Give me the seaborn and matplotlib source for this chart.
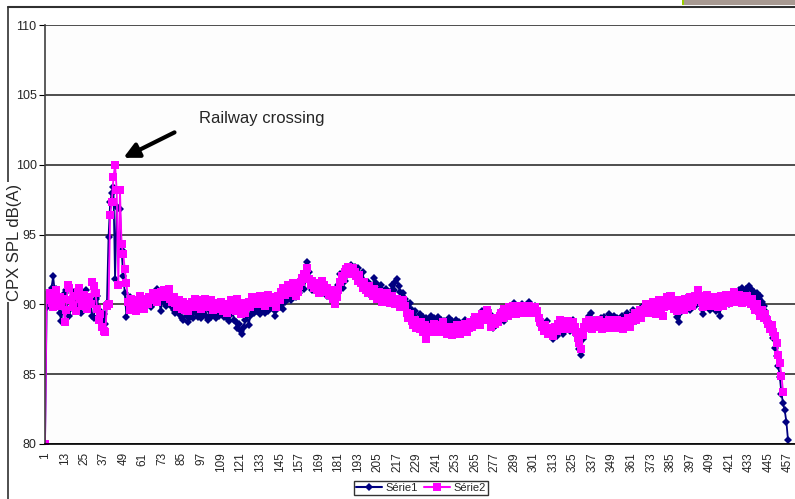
import numpy as np
import pandas as pd
import matplotlib
matplotlib.use("Agg")
import matplotlib.pyplot as plt
from matplotlib.lines import Line2D
from matplotlib.patches import Rectangle
import seaborn as sns

sns.set_style("white")
plt.rcParams["font.family"] = ["Liberation Sans", "DejaVu Sans"]

# measuring points 1..457 along the road
points = list(range(1, 458))

serie1 = [
    80.0, 89.8, 90.5, 90.8, 91.2, 92.0, 90.9, 91.1, 90.6, 89.4,
    88.8, 89.9, 90.8, 91.0, 89.5, 89.2, 90.2, 90.6, 90.9, 89.6,
    90.0, 90.9, 89.4, 90.2, 90.4, 91.0, 89.8, 90.5, 90.1, 89.2,
    89.0, 90.4, 90.6, 89.2, 89.5, 88.9, 89.3, 88.6, 90.1, 94.8,
    97.3, 98.0, 98.4, 91.8, 97.0, 96.9, 96.8, 93.9, 92.0, 90.8,
    89.1, 90.0, 90.5, 89.8, 89.5, 90.3, 89.9, 90.2, 90.0, 89.7,
    90.3, 89.9, 90.0, 90.5, 90.2, 89.8, 90.4, 90.1, 90.7, 91.1,
    90.5, 89.5, 90.3, 90.2, 89.9, 90.4, 90.6, 90.1, 89.8, 89.6,
    89.4, 89.9, 89.3, 89.6, 89.0, 88.9, 89.5, 89.2, 88.7, 89.1,
    89.4, 89.0, 89.7, 89.3, 89.1, 89.6, 89.0, 89.4, 89.8, 89.2,
    88.9, 89.5, 89.1, 89.9, 89.3, 89.0, 89.6, 89.2, 89.8, 89.4,
    89.1, 89.5, 89.0, 88.8, 89.3, 89.6, 88.9, 88.7, 88.3, 88.6,
    88.1, 87.9, 88.4, 88.9, 89.3, 88.5, 89.2, 89.6, 89.4, 89.8,
    89.5, 89.7, 89.3, 89.9, 89.6, 89.4, 90.0, 89.5, 89.8, 90.1,
    89.7, 89.2, 89.6, 90.0, 89.8, 90.3, 89.7, 90.2, 90.6, 90.4,
    90.8, 90.3, 90.6, 91.0, 90.5, 91.2, 90.8, 91.3, 91.5, 91.1,
    92.0, 93.0, 92.3, 91.4, 91.0, 91.6, 91.2, 90.9, 91.4, 91.1,
    90.8, 91.5, 91.2, 90.6, 91.0, 90.7, 90.9, 90.4, 90.2, 90.6,
    91.4, 92.2, 91.6, 91.2, 91.7, 92.0, 92.4, 92.6, 92.8, 92.5,
    92.7, 92.3, 92.6, 92.2, 91.9, 92.3, 91.4, 91.0, 91.6, 91.3,
    90.6, 91.2, 91.9, 91.5, 91.1, 90.8, 91.4, 91.0, 90.5, 91.1,
    90.7, 90.2, 90.9, 91.4, 91.0, 91.6, 91.8, 91.3, 90.9, 90.6,
    90.8, 90.4, 90.0, 89.7, 90.1, 89.6, 89.2, 89.5, 89.0, 88.9,
    89.3, 88.8, 89.1, 88.7, 89.0, 88.6, 88.9, 89.2, 88.8, 89.0,
    88.7, 89.1, 88.5, 88.9, 88.6, 88.8, 88.4, 88.7, 89.0, 88.5,
    88.8, 88.6, 88.9, 88.3, 88.7, 88.5, 88.1, 88.6, 88.9, 88.4,
    88.7, 88.2, 88.9, 89.1, 88.6, 89.0, 88.8, 89.2, 89.5, 89.1,
    89.4, 89.0, 89.6, 89.3, 88.6, 88.3, 88.9, 88.5, 89.2, 88.9,
    89.5, 89.1, 88.8, 89.4, 89.8, 89.6, 89.3, 89.7, 90.1, 89.8,
    89.5, 89.9, 89.6, 90.0, 89.7, 89.4, 89.8, 90.2, 89.9, 89.6,
    89.7, 89.9, 89.4, 88.9, 88.5, 88.7, 88.3, 88.6, 88.8, 88.4,
    88.0, 87.8, 87.5, 88.1, 87.7, 88.3, 88.6, 88.2, 87.9, 88.5,
    88.7, 88.4, 88.1, 88.6, 88.9, 88.2, 87.8, 87.4, 86.8, 86.4,
    87.5, 88.2, 88.6, 88.9, 89.2, 89.4, 88.7, 88.9, 88.5, 88.8,
    88.6, 89.0, 88.7, 89.1, 88.4, 88.9, 89.3, 89.1, 88.8, 89.2,
    88.6, 89.0, 88.5, 88.9, 89.2, 88.7, 89.1, 89.4, 89.0, 88.9,
    89.3, 89.6, 89.0, 88.8, 89.4, 89.7, 89.2, 89.9, 89.5, 89.8,
    89.6, 89.9, 90.2, 89.7, 89.4, 90.0, 89.8, 90.3, 90.1, 89.7,
    90.0, 90.4, 90.6, 90.2, 89.9, 90.5, 90.3, 89.8, 89.1, 88.7,
    89.4, 90.0, 90.3, 89.9, 90.5, 90.2, 89.6, 90.1, 90.4, 89.9,
    90.2, 90.6, 90.0, 89.7, 89.3, 89.9, 90.4, 90.1, 89.6, 90.0,
    90.5, 90.2, 89.5, 89.8, 89.2, 89.9, 90.3, 90.6, 90.1, 90.4,
    90.0, 90.5, 90.8, 90.3, 90.9, 90.6, 91.0, 90.7, 91.2, 90.9,
    91.1, 90.8, 91.3, 91.1, 90.6, 90.9, 90.5, 90.8, 90.4, 90.6,
    90.2, 89.9, 89.5, 89.1, 88.8, 88.4, 88.0, 87.6, 86.9, 86.3,
    85.6, 84.8, 83.6, 82.9, 82.4, 81.6, 80.3,
]

serie2 = [
    80.0, 90.7, 90.3, 90.8, 90.1, 89.8, 90.6, 91.0, 90.2, 90.5,
    89.9, 90.4, 88.7, 89.6, 91.4, 91.2, 90.3, 89.8, 90.6, 89.5,
    90.9, 91.2, 90.4, 89.9, 90.7, 90.2, 89.7, 90.5, 90.0, 91.6,
    91.3, 90.8, 89.7, 88.9, 89.3, 88.4, 88.1, 88.0, 89.9, 90.0,
    96.4, 97.3, 99.1, 100.0, 98.2, 91.4, 98.2, 94.3, 93.6, 92.5,
    91.5, 90.2, 89.6, 90.4, 89.8, 90.3, 89.5, 90.1, 90.6, 89.9,
    90.2, 89.7, 90.4, 90.0, 90.5, 90.3, 90.8, 90.4, 90.6, 90.2,
    90.7, 90.9, 90.5, 91.0, 90.6, 90.8, 91.1, 90.4, 90.2, 90.5,
    90.1, 89.8, 90.3, 90.0, 89.7, 90.2, 89.6, 90.0, 89.5, 89.9,
    90.2, 89.8, 90.4, 89.9, 90.1, 90.3, 89.7, 90.0, 90.4, 89.8,
    90.2, 89.9, 90.3, 89.6, 90.1, 89.8, 90.0, 89.7, 90.2, 89.5,
    90.0, 89.7, 89.4, 89.9, 90.3, 89.6, 90.0, 89.5, 90.4, 89.8,
    89.3, 89.7, 90.1, 89.4, 89.9, 90.2, 89.8, 90.5, 90.1, 90.3,
    90.0, 90.4, 90.6, 90.2, 90.5, 89.9, 90.3, 90.7, 90.4, 90.1,
    90.5, 90.2, 89.8, 90.6, 90.3, 90.9, 91.2, 90.7, 91.0, 91.4,
    90.8, 91.1, 91.5, 91.0, 90.6, 90.9, 91.3, 91.6, 91.9, 92.2,
    92.0, 92.6, 91.8, 91.4, 91.7, 91.2, 91.5, 91.0, 90.8, 91.3,
    91.7, 91.4, 90.9, 91.2, 90.7, 91.0, 90.6, 90.4, 90.0, 90.5,
    91.0, 91.6, 92.0, 91.8, 92.3, 92.5, 92.7, 92.4, 92.2, 92.6,
    92.3, 92.0, 91.7, 92.1, 91.5, 91.2, 91.6, 91.0, 90.8, 91.3,
    90.9, 90.6, 91.1, 90.7, 90.4, 90.9, 90.5, 90.2, 90.7, 90.3,
    90.8, 90.5, 90.1, 90.6, 90.2, 90.0, 90.4, 90.1, 89.8, 90.0,
    90.3, 89.9, 89.4, 89.0, 89.3, 88.8, 88.5, 88.9, 88.3, 88.6,
    88.2, 88.7, 88.0, 88.5, 87.5, 88.1, 88.4, 88.0, 88.3, 88.6,
    88.2, 88.5, 88.0, 88.4, 88.7, 88.1, 88.3, 87.9, 88.4, 88.2,
    87.8, 88.3, 88.0, 88.5, 88.2, 87.9, 88.4, 88.1, 88.6, 88.0,
    88.3, 88.7, 88.4, 88.8, 89.1, 88.6, 89.0, 88.5, 89.3, 88.9,
    89.2, 89.6, 89.3, 88.9, 88.4, 88.8, 88.6, 89.0, 88.7, 89.2,
    89.4, 89.0, 89.7, 89.5, 89.2, 89.8, 89.4, 89.9, 89.6, 89.3,
    89.7, 89.5, 89.9, 89.6, 89.4, 89.8, 89.5, 89.9, 89.7, 89.4,
    89.6, 89.8, 89.5, 89.0, 88.7, 88.4, 88.1, 88.5, 88.2, 87.9,
    88.3, 88.0, 87.7, 88.4, 88.1, 88.6, 88.9, 88.5, 88.2, 88.7,
    88.4, 88.8, 88.5, 88.2, 88.7, 88.4, 88.0, 87.6, 87.2, 86.8,
    87.8, 88.4, 88.7, 88.3, 88.9, 88.6, 88.2, 88.5, 88.8, 88.4,
    88.9, 88.5, 88.2, 88.7, 88.3, 88.6, 88.9, 88.4, 88.7, 88.3,
    88.6, 88.9, 88.3, 88.7, 88.5, 88.2, 88.8, 88.6, 89.0, 88.4,
    88.8, 89.1, 89.4, 88.9, 89.3, 89.6, 89.0, 89.4, 89.7, 90.0,
    89.5, 89.8, 89.4, 90.2, 89.7, 89.3, 89.9, 90.3, 89.6, 89.2,
    89.8, 90.2, 90.5, 89.9, 90.6, 90.3, 89.7, 90.1, 89.5, 89.9,
    90.3, 90.0, 89.6, 90.4, 89.8, 90.1, 90.5, 89.9, 90.2, 90.6,
    90.3, 91.0, 90.6, 90.2, 89.8, 90.4, 90.7, 90.1, 89.9, 90.3,
    90.0, 90.5, 90.2, 89.8, 90.3, 90.6, 89.9, 90.2, 90.7, 90.4,
    90.1, 90.6, 90.3, 90.9, 90.5, 90.2, 90.7, 90.4, 90.1, 90.5,
    90.2, 90.6, 90.3, 90.0, 90.4, 89.9, 89.6, 90.0, 89.5, 89.2,
    89.6, 89.0, 89.3, 88.9, 88.6, 88.2, 88.5, 88.0, 87.7, 87.2,
    86.4, 85.8, 84.9, 83.7, np.nan, np.nan, np.nan,
]

tick_labels = [str(p) for p in range(1, 458, 12)]
y_ticks = [80, 85, 90, 95, 100, 105, 110]

df = pd.DataFrame({"Point": points, "Série1": serie1, "Série2": serie2})

fig = plt.figure(figsize=(7.95, 4.99), dpi=100)
ax = fig.add_axes([45 / 795, 1 - 444 / 499, 1 - 45 / 795, (444 - 25) / 499])

sns.lineplot(data=df, x="Point", y="Série1", ax=ax, color="#000080", marker="D",
             markersize=4.4, markeredgewidth=0, linewidth=1.3, label="Série1")
sns.lineplot(data=df, x="Point", y="Série2", ax=ax, color="#ff00ff", marker="s",
             markersize=5.6, markeredgewidth=0, linewidth=1.3, label="Série2")

ax.set_xlim(1, 461.3)
ax.set_ylim(80, 110)
ax.set_yticks(y_ticks)
ax.set_yticklabels([str(v) for v in y_ticks], fontsize=9)
ax.set_xticks(list(range(1, 458, 12)))
ax.set_xticklabels(tick_labels, rotation=90, fontsize=8.5)
ax.set_xticks(points, minor=True)
ax.tick_params(axis="x", which="major", length=4, width=0.8, color="black", pad=2)
ax.tick_params(axis="x", which="minor", length=4, width=0.6, color="black")
ax.tick_params(axis="y", which="major", length=4, width=0.8, color="black", left=True, pad=2)
ax.set_xlabel("")
ax.set_ylabel("")
ax.grid(axis="y", color="#404040", linewidth=1.3)
ax.set_axisbelow(True)
for side in ["top", "right"]:
    ax.spines[side].set_visible(False)
ax.spines["left"].set_color("#404040")
ax.spines["bottom"].set_color("black")
ax.spines["left"].set_linewidth(1.2)
ax.spines["bottom"].set_linewidth(1.2)
ax.set_facecolor("#fdfdfd")
ax.legend_.remove()

# annotation of the railway crossing peak
ax.annotate("", xy=(47.6, 100.4), xytext=(82, 102.4),
            arrowprops=dict(arrowstyle="-|>,head_length=0.9,head_width=0.45",
                            color="black", lw=3))
ax.text(134, 103.3, "Railway crossing", fontsize=12, ha="center", va="center")

# slide frame lines and corner block (kept behind the axes)
fig.add_artist(Line2D([8 / 795, 1], [1 - 7 / 499, 1 - 7 / 499],
                      transform=fig.transFigure, color="#303030", lw=1.5, zorder=-3))
fig.add_artist(Line2D([8 / 795, 8 / 795], [0, 1 - 7 / 499],
                      transform=fig.transFigure, color="#303030", lw=1.2, zorder=-3))
fig.add_artist(Rectangle((682 / 795, 1 - 5 / 499), 113 / 795, 5 / 499,
                         transform=fig.transFigure, facecolor="#a89a92",
                         edgecolor="none"))
fig.add_artist(Rectangle((682 / 795, 1 - 5 / 499), 2 / 795, 5 / 499,
                         transform=fig.transFigure, facecolor="#99cc00",
                         edgecolor="none"))

# y label with white box over the slide frame line
ylab = fig.text(15 / 795, 1 - 242 / 499, "CPX SPL dB(A)", rotation=90, fontsize=12,
                ha="center", va="center",
                bbox=dict(facecolor="white", edgecolor="none", pad=1))
ylab.set_zorder(-2)

handles = [
    Line2D([], [], color="#000080", marker="D", markersize=4.4, markeredgewidth=0, lw=1.5),
    Line2D([], [], color="#ff00ff", marker="s", markersize=5.6, markeredgewidth=0, lw=1.5),
]
leg = fig.legend(handles, ["Série1", "Série2"], loc="center", ncol=2,
                 bbox_to_anchor=(421 / 795, 1 - 488 / 499), fontsize=8,
                 frameon=True, fancybox=False, edgecolor="black",
                 handlelength=2.3, handletextpad=0.3, columnspacing=0.6,
                 borderpad=0.2)
leg.get_frame().set_linewidth(1.0)

fig.savefig("out.png", dpi=100)
